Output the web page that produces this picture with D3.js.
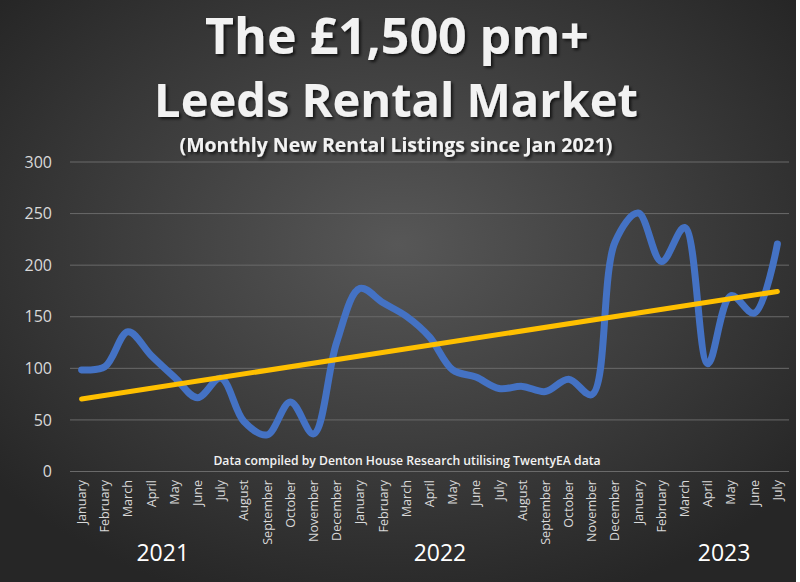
<!DOCTYPE html>
<html><head><meta charset="utf-8">
<script src="https://cdn.jsdelivr.net/npm/d3@7"></script>
<style>html,body{margin:0;padding:0;background:#fff;}svg{display:block;}</style>
</head><body>
<svg id="chart" width="800" height="582"></svg>
<script>
const months = ["January","February","March","April","May","June","July","August","September","October","November","December",
"January","February","March","April","May","June","July","August","September","October","November","December",
"January","February","March","April","May","June","July"];
const listings = [98,101,135,112,91,71,90,48,35,67,36,125,
177,163,150,130,98,91,80,82,77,89,74,222,
250,203,236,104,170,153,220];
const years = ["2021","2022","2023"];
const yearCenterIndex = [3.5,15.45,27.7];
const yTicks = [0,50,100,150,200,250,300];
const titleLines = ["The £1,500 pm+","Leeds Rental Market"];
const subtitle = "(Monthly New Rental Listings since Jan 2021)";
const note = "Data compiled by Denton House Research utilising TwentyEA data";

const svg = d3.select("#chart");
const W = 800, H = 582;
const defs = svg.append("defs");
const grad = defs.append("radialGradient").attr("id","bg").attr("cx","50%").attr("cy","42%").attr("r","65%");
grad.append("stop").attr("offset","0%").attr("stop-color","#575757");
grad.append("stop").attr("offset","100%").attr("stop-color","#262626");
const sh = defs.append("filter").attr("id","shadow").attr("x","-10%").attr("y","-20%").attr("width","120%").attr("height","150%");
sh.append("feDropShadow").attr("dx",2).attr("dy",2).attr("stdDeviation",1.5).attr("flood-color","#000").attr("flood-opacity",0.7);

svg.append("rect").attr("width",W).attr("height",H).attr("fill","#fff");
svg.append("rect").attr("width",796).attr("height",H).attr("fill","url(#bg)");

const margin = {left:70, right:789, top:161.5, bottom:471};
const x = d3.scaleBand().domain(d3.range(months.length)).range([margin.left, margin.right]);
const y = d3.scaleLinear().domain([0,300]).range([margin.bottom, margin.top]);
const cx = i => x(i) + x.bandwidth()/2;
const cxf = v => margin.left + x.step()*(v+0.5);

// grid
const yAxis = d3.axisLeft(y).tickValues(yTicks).tickSize(-(margin.right-margin.left)).tickPadding(18);
const ga = svg.append("g").attr("transform",`translate(${margin.left},0)`).call(yAxis);
ga.select(".domain").remove();
ga.selectAll(".tick line").attr("stroke","#6a6a6a").attr("stroke-width",1);
ga.selectAll(".tick text").attr("fill","#d9d9d9").style("font-family","'Open Sans', sans-serif").style("font-size","16px").attr("dy","0.35em");

// x labels
const xAxis = d3.axisBottom(x).tickFormat(i => months[i]).tickSize(0).tickPadding(0);
const gx = svg.append("g").attr("transform",`translate(0,${margin.bottom})`).call(xAxis);
gx.select(".domain").remove();
gx.selectAll(".tick text")
  .attr("fill","#d9d9d9")
  .style("font-family","'Open Sans', sans-serif").style("font-size","12.6px")
  .attr("text-anchor","end").attr("transform","rotate(-90)")
  .attr("x",-9).attr("y",0).attr("dy","0.35em");

// year labels
svg.selectAll(".year").data(years).join("text").attr("class","year")
  .attr("x",(d,i)=>cxf(yearCenterIndex[i])).attr("y",561)
  .attr("text-anchor","middle").attr("fill","#fff")
  .style("font-family","'Open Sans', sans-serif").style("font-size","23px")
  .text(d=>d);

// trendline (linear regression of the data)
const n = listings.length;
const mx = d3.mean(d3.range(n)), my = d3.mean(listings);
const slope = d3.sum(d3.range(n), i => (i-mx)*(listings[i]-my)) / d3.sum(d3.range(n), i => (i-mx)*(i-mx));
const intercept = my - slope*mx;

// series line
const line = d3.line().x((d,i)=>cx(i)).y(d=>y(d)).curve(d3.curveCatmullRom.alpha(0.5));
svg.append("path").datum(listings).attr("d",line).attr("fill","none")
  .attr("stroke","#4472C4").attr("stroke-width",7).attr("stroke-linecap","round").attr("stroke-linejoin","round");

svg.append("line")
  .attr("x1",cx(0)).attr("y1",y(intercept))
  .attr("x2",cx(n-1)).attr("y2",y(intercept+slope*(n-1)))
  .attr("stroke","#FFC000").attr("stroke-width",5).attr("stroke-linecap","round");

// titles
svg.append("text").attr("x",397).attr("y",54).attr("text-anchor","middle").attr("fill","#f2f2f2")
  .attr("filter","url(#shadow)")
  .style("font-family","'Open Sans', sans-serif").style("font-weight","bold").style("font-size","50px")
  .text(titleLines[0]);
svg.append("text").attr("x",396).attr("y",117).attr("text-anchor","middle").attr("fill","#f2f2f2")
  .attr("filter","url(#shadow)")
  .style("font-family","'Open Sans', sans-serif").style("font-weight","bold").style("font-size","47px")
  .text(titleLines[1]);
svg.append("text").attr("x",396).attr("y",152).attr("text-anchor","middle").attr("fill","#f2f2f2")
  .attr("filter","url(#shadow)")
  .style("font-family","'Open Sans', sans-serif").style("font-weight","bold").style("font-size","19.5px")
  .text(subtitle);

svg.append("text").attr("x",407).attr("y",465).attr("text-anchor","middle").attr("fill","#f2f2f2")
  .style("font-family","'Open Sans', sans-serif").style("font-weight","600").style("font-size","12.2px")
  .text(note);
</script>
</body></html>
